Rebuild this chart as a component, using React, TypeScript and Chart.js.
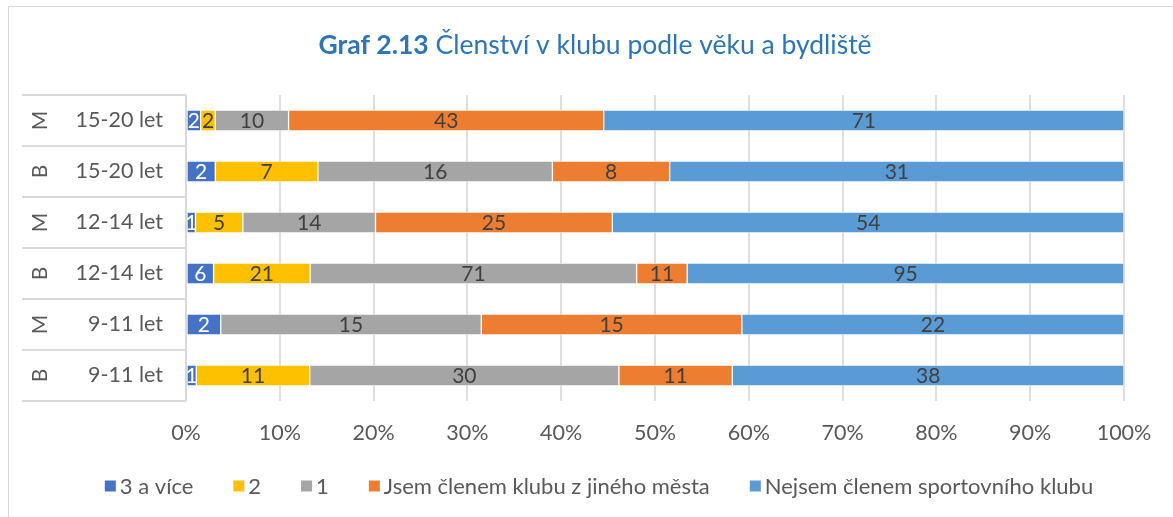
import { useEffect, useRef } from "react";
import { Chart, registerables } from "chart.js";

Chart.register(...registerables);

// ---- data ----
const groups = ["M", "B", "M", "B", "M", "B"];
const ages = ["15-20 let", "15-20 let", "12-14 let", "12-14 let", "9-11 let", "9-11 let"];
const seriesNames = [
  "3 a více",
  "2",
  "1",
  "Jsem členem klubu z jiného města",
  "Nejsem členem sportovního klubu",
];
const threePlus = [2, 2, 1, 6, 2, 1];
const two = [2, 7, 5, 21, 0, 11];
const one = [10, 16, 14, 71, 15, 30];
const otherCity = [43, 8, 25, 11, 15, 11];
const notMember = [71, 31, 54, 95, 22, 38];
const titleBold = "Graf 2.13";
const titleRest = " Členství v klubu podle věku a bydliště";

const seriesValues = [threePlus, two, one, otherCity, notMember];
const seriesColors = ["#4472c4", "#ffc000", "#a5a5a5", "#ed7d31", "#5b9bd5"];
const labelColors = ["#ffffff", "#404040", "#404040", "#404040", "#404040"];

const FONT = "Lato, 'Open Sans', sans-serif";
const TEXT = "#595959";
const LINE = "#d9d9d9";

const totals = ages.map((_, i) => seriesValues.reduce((s, arr) => s + arr[i], 0));

const framePlugin = {
  id: "frame",
  beforeDraw(chart: any) {
    const ctx = chart.ctx;
    ctx.save();
    ctx.fillStyle = "#ffffff";
    ctx.fillRect(0, 0, chart.width, chart.height);
    ctx.strokeStyle = LINE;
    ctx.lineWidth = 1;
    ctx.strokeRect(8.5, 6.5, chart.width + 20, chart.height + 20);
    ctx.restore();
  },
};

const tablePlugin = {
  id: "table",
  afterDraw(chart: any) {
    const ctx = chart.ctx;
    const { top, bottom, left } = chart.chartArea;
    const n = ages.length;
    const band = (bottom - top) / n;
    ctx.save();
    ctx.strokeStyle = LINE;
    ctx.lineWidth = 2;
    ctx.beginPath();
    for (let k = 0; k <= n; k++) {
      const y = Math.round(top + k * band);
      ctx.moveTo(22, y);
      ctx.lineTo(left, y);
    }
    ctx.moveTo(left, top);
    ctx.lineTo(left, bottom);
    ctx.stroke();
    ctx.fillStyle = TEXT;
    ctx.font = `21px ${FONT}`;
    ctx.textAlign = "center";
    ctx.textBaseline = "middle";
    const yScale = chart.scales.y;
    groups.forEach((g, i) => {
      const y = yScale.getPixelForValue(i);
      ctx.save();
      ctx.translate(39, y);
      ctx.rotate(-Math.PI / 2);
      ctx.fillText(g, 0, 1);
      ctx.restore();
    });
    ctx.restore();
  },
};

const valueLabelPlugin = {
  id: "valueLabels",
  afterDatasetsDraw(chart: any) {
    const ctx = chart.ctx;
    ctx.save();
    ctx.font = `21px ${FONT}`;
    ctx.textAlign = "center";
    ctx.textBaseline = "middle";
    chart.data.datasets.forEach((ds: any, di: number) => {
      const meta = chart.getDatasetMeta(di);
      meta.data.forEach((el: any, i: number) => {
        const v = seriesValues[di][i];
        if (!v) return;
        const p = el.getProps(["x", "y", "base"], true);
        ctx.fillStyle = labelColors[di];
        ctx.fillText(String(v), (p.x + p.base) / 2, p.y + 1);
      });
    });
    ctx.restore();
  },
};

const titlePlugin = {
  id: "customTitle",
  afterDraw(chart: any) {
    const ctx = chart.ctx;
    ctx.save();
    ctx.fillStyle = "#2e75b6";
    ctx.textBaseline = "middle";
    ctx.textAlign = "left";
    const boldFont = `bold 26.5px ${FONT}`;
    const normFont = `26.5px ${FONT}`;
    ctx.font = boldFont;
    const w1 = ctx.measureText(titleBold).width;
    ctx.font = normFont;
    const w2 = ctx.measureText(titleRest).width;
    const cx = 595;
    let x = cx - (w1 + w2) / 2;
    ctx.font = boldFont;
    ctx.fillText(titleBold, x, 45);
    ctx.font = normFont;
    ctx.fillText(titleRest, x + w1, 45);
    ctx.restore();
  },
};

const legendPlugin = {
  id: "customLegend",
  afterDraw(chart: any) {
    const ctx = chart.ctx;
    ctx.save();
    ctx.font = `22px ${FONT}`;
    ctx.textBaseline = "middle";
    ctx.textAlign = "left";
    const box = 11;
    const gap = 4;
    const spacing = 40;
    const items = chart.data.datasets.map((ds: any) => ({
      text: ds.label,
      color: ds.backgroundColor,
      w: box + gap + ctx.measureText(ds.label).width,
    }));
    const total = items.reduce((s: number, it: any) => s + it.w, 0) + spacing * (items.length - 1);
    let x = 599 - total / 2;
    const y = 486;
    items.forEach((it: any) => {
      ctx.fillStyle = it.color;
      ctx.fillRect(x, y - box / 2, box, box);
      ctx.fillStyle = TEXT;
      ctx.fillText(it.text, x + box + gap, y + 1);
      x += it.w + spacing;
    });
    ctx.restore();
  },
};

export default function App() {
  const ref = useRef<HTMLCanvasElement | null>(null);
  useEffect(() => {
    if (!ref.current) return;
    const chart = new Chart(ref.current, {
      type: "bar",
      data: {
        labels: ages,
        datasets: seriesNames.map((name, si) => ({
          label: name,
          data: seriesValues[si].map((v, i) => (v / totals[i]) * 100),
          backgroundColor: seriesColors[si],
          borderColor: "rgba(255,255,255,0.55)",
          borderWidth: 1,
          borderSkipped: false,
          barThickness: 21,
        })),
      },
      options: {
        indexAxis: "y",
        animation: false,
        responsive: false,
        layout: { padding: { top: 95, left: 0, right: 49, bottom: 0 } },
        plugins: {
          legend: { display: false },
          title: { display: false },
          tooltip: { enabled: false },
        },
        scales: {
          x: {
            stacked: true,
            min: 0,
            max: 100,
            ticks: {
              stepSize: 10,
              callback: (v: any) => v + "%",
              color: TEXT,
              font: { family: FONT, size: 21.5 },
              padding: 19,
            },
            grid: { color: "#dedede", lineWidth: 2, drawTicks: false },
            border: { display: false },
            afterFit: (scale: any) => {
              scale.height = 116;
            },
          },
          y: {
            stacked: true,
            ticks: {
              color: TEXT,
              font: { family: FONT, size: 21.5 },
              padding: 23,
            },
            grid: { display: false, drawTicks: false },
            border: { display: false },
            afterFit: (scale: any) => {
              scale.width = 186;
            },
          },
        },
      },
      plugins: [framePlugin, tablePlugin, valueLabelPlugin, titlePlugin, legendPlugin],
    } as any);
    return () => chart.destroy();
  }, []);
  return (
    <div style={{ position: "fixed", left: 0, top: 0, width: 1173, height: 517, background: "#fff" }}>
      <canvas ref={ref} width={1173} height={517} style={{ width: 1173, height: 517, display: "block" }} />
    </div>
  );
}
